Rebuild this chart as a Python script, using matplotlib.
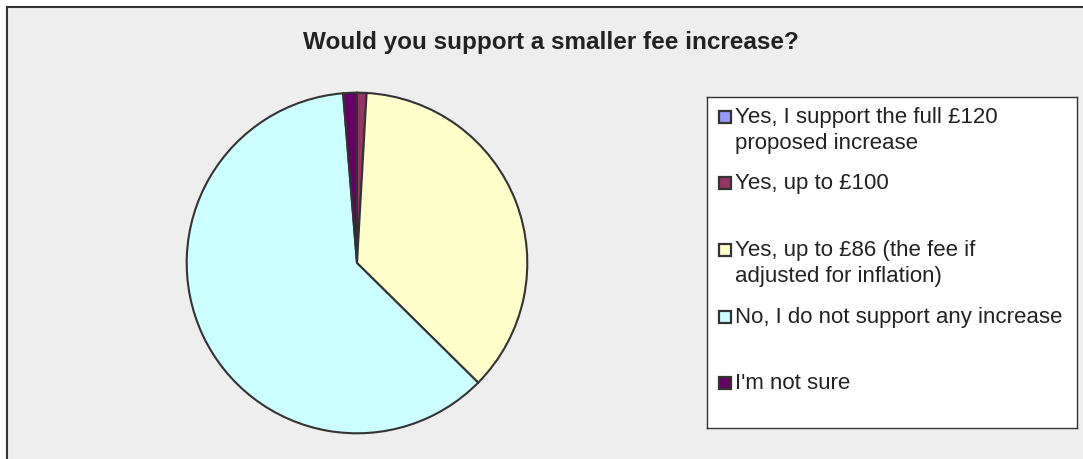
import matplotlib
matplotlib.use("Agg")
import matplotlib.pyplot as plt
from matplotlib.patches import Rectangle

# Survey answers (percent)
labels = [
    "Yes, I support the full £120\nproposed increase",
    "Yes, up to £100",
    "Yes, up to £86 (the fee if\nadjusted for inflation)",
    "No, I do not support any increase",
    "I'm not sure",
]
shares = [0.0, 0.9, 36.5, 61.3, 1.3]
colors = ["#9999FF", "#993366", "#FFFFCC", "#CCFFFF", "#660066"]
title = "Would you support a smaller fee increase?"

W, H = 1083, 459
plt.rcParams["font.family"] = ["Liberation Sans", "DejaVu Sans"]
fig = plt.figure(figsize=(W / 100, H / 100), dpi=100)
fig.patch.set_facecolor("white")

# chart area (cropped: only top and left border are visible)
fig.add_artist(Rectangle((7 / W, -0.05), 1.1, 1 - 7 / H + 0.05,
                         transform=fig.transFigure, facecolor="#EEEEEE",
                         edgecolor="#333333", linewidth=1.5, zorder=0))

fig.text(551 / W, 1 - 42 / H, title, ha="center", va="center",
         fontsize=17.5, fontweight="bold", color="#222222")

# pie, clockwise from 12 o'clock
ax = fig.add_axes([185 / W, (H - 435) / H, 344 / W, 344 / H])
ax.pie(shares, colors=colors, startangle=90, counterclock=False,
       wedgeprops=dict(edgecolor="#333333", linewidth=1.5))
ax.set_xlim(-1.01, 1.01)
ax.set_ylim(-1.01, 1.01)
ax.set_aspect("equal")
ax.axis("off")

# legend box
lax = fig.add_axes([707 / W, (H - 428) / H, 370 / W, 331 / H])
lax.set_xlim(707, 1077)
lax.set_ylim(428, 97)
lax.set_xticks([])
lax.set_yticks([])
lax.set_facecolor("white")
for s in lax.spines.values():
    s.set_color("#333333")
    s.set_linewidth(1)

entry_y = [117, 183, 250, 317, 383]
line_gap = 26
for lab, col, y in zip(labels, colors, entry_y):
    lax.add_patch(Rectangle((719, y - 6), 12, 12, facecolor=col,
                            edgecolor="#333333", linewidth=1.6))
    for i, part in enumerate(lab.split("\n")):
        lax.text(735, y + i * line_gap, part, ha="left", va="center",
                 fontsize=16, color="#222222")

fig.savefig("out.png", dpi=100, facecolor=fig.get_facecolor())
